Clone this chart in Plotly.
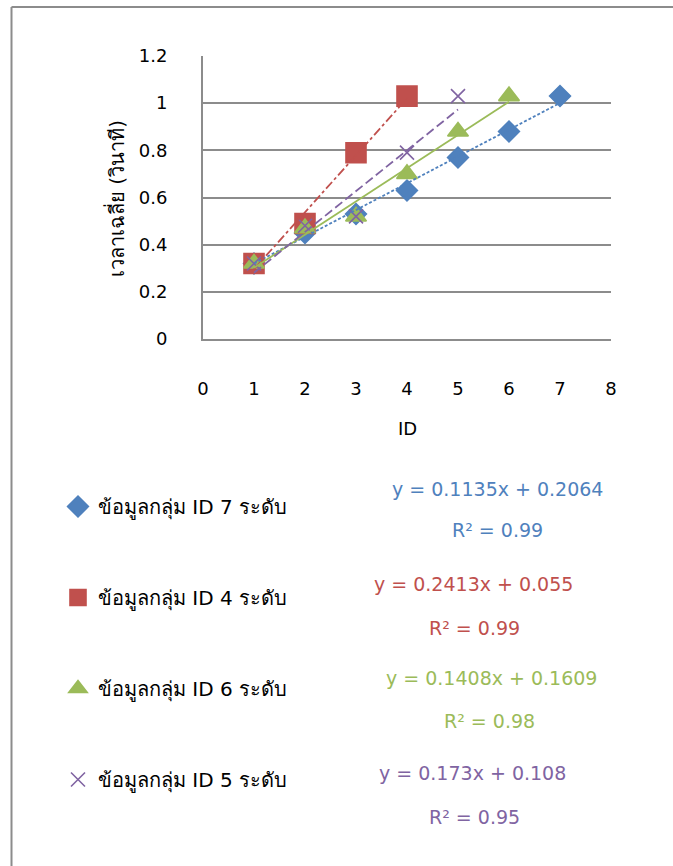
import plotly.graph_objects as go

# ---- data ----
ids7 = [1, 2, 3, 4, 5, 6, 7]
time7 = [0.32, 0.45, 0.53, 0.63, 0.77, 0.88, 1.03]
ids4 = [1, 2, 3, 4]
time4 = [0.32, 0.49, 0.79, 1.03]
ids6 = [1, 2, 3, 4, 5, 6]
time6 = [0.32, 0.47, 0.52, 0.70, 0.88, 1.03]
ids5 = [1, 2, 3, 4, 5]
time5 = [0.32, 0.48, 0.52, 0.79, 1.03]

names = ["ข้อมูลกลุ่ม ID 7 ระดับ", "ข้อมูลกลุ่ม ID 4 ระดับ",
         "ข้อมูลกลุ่ม ID 6 ระดับ", "ข้อมูลกลุ่ม ID 5 ระดับ"]
slopes = [0.1135, 0.2413, 0.1408, 0.173]
intercepts = [0.2064, 0.055, 0.1609, 0.108]
r2_values = ["0.99", "0.99", "0.98", "0.95"]
eq_labels = ["y = 0.1135x + 0.2064", "y = 0.2413x + 0.055",
             "y = 0.1408x + 0.1609", "y = 0.173x + 0.108"]

x_ticks = [0, 1, 2, 3, 4, 5, 6, 7, 8]
y_ticks = [0, 0.2, 0.4, 0.6, 0.8, 1, 1.2]

# ---- styles ----
colors = ["#4F81BD", "#C0504D", "#9BBB59", "#8064A2"]
symbols = ["diamond", "square", "triangle-up", "x-thin-open"]
msizes = [16, 20, 18, 14]
dashes = ["3px,2px", "dashdot", "solid", "9px,4px"]

W, H = 673, 866
L, R, T, B = 203, 611, 56, 339
pw, ph = R - L, B - T


def px(x):
    return (x - L) / pw


def py(y):
    return (B - y) / ph


FONT = "Tahoma, 'DejaVu Sans', 'Noto Sans', sans-serif"

fig = go.Figure()
series = [(ids7, time7), (ids4, time4), (ids6, time6), (ids5, time5)]

for i, (xs, ys) in enumerate(series):
    fig.add_trace(go.Scatter(
        x=xs, y=ys, mode="markers", name=names[i], legendgroup=str(i),
        marker=dict(symbol=symbols[i], size=msizes[i], color=colors[i],
                    line=dict(width=1.6, color=colors[i])),
        cliponaxis=False,
    ))

for i, (xs, ys) in enumerate(series):
    tx = [xs[0], xs[-1]]
    ty = [slopes[i] * v + intercepts[i] for v in tx]
    fig.add_trace(go.Scatter(
        x=tx, y=ty, mode="lines", showlegend=False,
        line=dict(color=colors[i], width=1.8, dash=dashes[i]),
        hoverinfo="skip",
    ))

ann = []
eq_pos = [(497, 489, 497, 530), (473, 584, 474, 628),
          (491, 678, 489, 721), (472, 773, 474, 817)]
for i in range(4):
    ex, ey, rx, ry = eq_pos[i]
    ann.append(dict(x=px(ex), y=py(ey), xref="paper", yref="paper",
                    text=eq_labels[i], showarrow=False,
                    font=dict(size=19, color=colors[i], family=FONT),
                    xanchor="center", yanchor="middle"))
    ann.append(dict(x=px(rx), y=py(ry), xref="paper", yref="paper",
                    text="R² = " + r2_values[i], showarrow=False,
                    font=dict(size=19, color=colors[i], family=FONT),
                    xanchor="center", yanchor="middle"))

ann.append(dict(x=px(116), y=py(199), xref="paper", yref="paper",
                text="เวลาเฉลี่ย (วินาที)", textangle=-90, showarrow=False,
                font=dict(size=20, color="black", family=FONT),
                xanchor="center", yanchor="middle"))
ann.append(dict(x=px(407), y=py(428), xref="paper", yref="paper",
                text="ID", showarrow=False,
                font=dict(size=18, color="black", family=FONT),
                xanchor="center", yanchor="middle"))

shapes = [
    dict(type="line", xref="paper", yref="paper",
         x0=px(11.5), x1=px(11.5), y0=py(7), y1=py(870),
         line=dict(color="#8c8c8c", width=2)),
    dict(type="line", xref="paper", yref="paper",
         x0=px(11.5), x1=px(680), y0=py(7), y1=py(7),
         line=dict(color="#8c8c8c", width=2)),
]

fig.update_layout(
    width=W, height=H,
    margin=dict(l=L, r=W - R, t=T, b=H - B, autoexpand=False),
    paper_bgcolor="white", plot_bgcolor="white",
    font=dict(family=FONT, size=18, color="black"),
    annotations=ann, shapes=shapes,
    legend=dict(x=px(58), y=py(487), xanchor="left", yanchor="top",
                font=dict(size=20, color="black", family=FONT),
                tracegroupgap=62, itemsizing="trace",
                bgcolor="rgba(0,0,0,0)"),
    showlegend=True,
)
fig.update_xaxes(range=[0, 8], tickvals=x_ticks, showgrid=False,
                 showline=True, linecolor="#8c8c8c", linewidth=2,
                 ticks="", ticklabelstandoff=32, zeroline=False,
                 tickfont=dict(size=18))
fig.update_yaxes(range=[0, 1.2], tickvals=y_ticks, showgrid=True,
                 gridcolor="#8c8c8c", gridwidth=2,
                 showline=True, linecolor="#8c8c8c", linewidth=2,
                 ticks="", ticklabelstandoff=30, zeroline=False,
                 tickfont=dict(size=18))

fig.write_html("out.html")
